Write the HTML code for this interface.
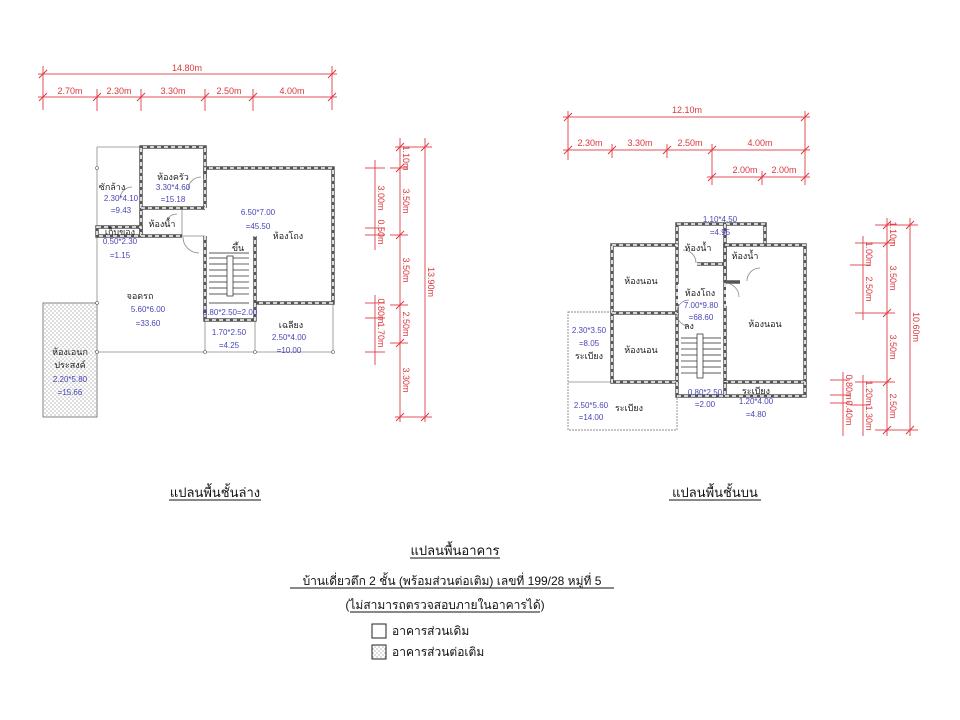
<!DOCTYPE html>
<html><head><meta charset="utf-8">
<style>
html,body{margin:0;padding:0;background:#fff;}
svg{display:block;font-family:"Liberation Sans","DejaVu Sans",sans-serif;}
.d{stroke:#e0505a;stroke-width:1;fill:none}
.dt{fill:#d9383f;font-size:9px}
.t{fill:#222;font-size:9px}
.b{fill:#4a46b8;font-size:8px}
.th{stroke:#888;stroke-width:0.8;fill:none}
.w1{stroke:#555;stroke-width:3.5;fill:none}
.w2{stroke:#fff;stroke-width:1.6;fill:none;stroke-dasharray:4 3}
</style></head>
<body>
<svg width="960" height="720" viewBox="0 0 960 720" xmlns="http://www.w3.org/2000/svg">
<defs>
<pattern id="dots" width="4" height="4" patternUnits="userSpaceOnUse"><rect width="4" height="4" fill="#fff"/><circle cx="1" cy="1" r="0.6" fill="#888"/><circle cx="3" cy="3" r="0.6" fill="#888"/></pattern>
<g id="tk"><line x1="-4" y1="4" x2="4" y2="-4" stroke="#d9383f" stroke-width="1"/></g>
</defs>

<!-- LEFT top dims -->
<line class="d" x1="38" y1="74" x2="337" y2="74"/>
<line class="d" x1="43" y1="66" x2="43" y2="110"/><line class="d" x1="332" y1="66" x2="332" y2="110"/>
<use href="#tk" x="43" y="74"/><use href="#tk" x="332" y="74"/>
<text class="dt" x="187" y="71" text-anchor="middle">14.80m</text>
<line class="d" x1="38" y1="97" x2="337" y2="97"/>
<g>
<line class="d" x1="97" y1="89" x2="97" y2="111"/><line class="d" x1="141" y1="89" x2="141" y2="111"/><line class="d" x1="205" y1="89" x2="205" y2="111"/><line class="d" x1="253" y1="89" x2="253" y2="111"/>
<use href="#tk" x="43" y="97"/><use href="#tk" x="97" y="97"/><use href="#tk" x="141" y="97"/><use href="#tk" x="205" y="97"/><use href="#tk" x="253" y="97"/><use href="#tk" x="332" y="97"/>
</g>
<text class="dt" x="70" y="94" text-anchor="middle">2.70m</text>
<text class="dt" x="119" y="94" text-anchor="middle">2.30m</text>
<text class="dt" x="173" y="94" text-anchor="middle">3.30m</text>
<text class="dt" x="229" y="94" text-anchor="middle">2.50m</text>
<text class="dt" x="292" y="94" text-anchor="middle">4.00m</text>

<!-- LEFT vertical dims -->
<line class="d" x1="425" y1="138" x2="425" y2="422"/>
<line class="d" x1="395" y1="147" x2="432" y2="147"/><line class="d" x1="395" y1="417" x2="432" y2="417"/>
<use href="#tk" x="425" y="147"/><use href="#tk" x="425" y="417"/>
<text class="dt" transform="translate(428,282) rotate(90)" text-anchor="middle">13.90m</text>
<line class="d" x1="400" y1="138" x2="400" y2="422"/>
<g>
<line class="d" x1="390" y1="168" x2="408" y2="168"/><line class="d" x1="390" y1="235" x2="408" y2="235"/><line class="d" x1="390" y1="305" x2="408" y2="305"/><line class="d" x1="390" y1="343" x2="408" y2="343"/>
<use href="#tk" x="400" y="147"/><use href="#tk" x="400" y="168"/><use href="#tk" x="400" y="235"/><use href="#tk" x="400" y="305"/><use href="#tk" x="400" y="343"/><use href="#tk" x="400" y="417"/>
</g>
<text class="dt" transform="translate(403,158) rotate(90)" text-anchor="middle">1.10m</text>
<text class="dt" transform="translate(403,201) rotate(90)" text-anchor="middle">3.50m</text>
<text class="dt" transform="translate(403,270) rotate(90)" text-anchor="middle">3.50m</text>
<text class="dt" transform="translate(403,324) rotate(90)" text-anchor="middle">2.50m</text>
<text class="dt" transform="translate(403,380) rotate(90)" text-anchor="middle">3.30m</text>
<line class="d" x1="375" y1="160" x2="375" y2="250"/><line class="d" x1="375" y1="295" x2="375" y2="365"/>
<line class="d" x1="365" y1="168" x2="385" y2="168"/><line class="d" x1="365" y1="228" x2="385" y2="228"/><line class="d" x1="365" y1="235" x2="385" y2="235"/>
<line class="d" x1="365" y1="303" x2="385" y2="303"/><line class="d" x1="365" y1="318" x2="385" y2="318"/><line class="d" x1="365" y1="352" x2="385" y2="352"/>
<text class="dt" transform="translate(378,198) rotate(90)" text-anchor="middle">3.00m</text>
<text class="dt" transform="translate(378,232) rotate(90)" text-anchor="middle">0.50m</text>
<text class="dt" transform="translate(378,311) rotate(90)" text-anchor="middle">0.80m</text>
<text class="dt" transform="translate(378,335) rotate(90)" text-anchor="middle">1.70m</text>

<!-- LEFT plan -->
<rect x="43" y="303" width="54" height="114" fill="url(#dots)" stroke="#666" stroke-width="0.8"/>
<polyline class="th" points="97,147 141,147"/>
<line class="th" x1="97" y1="147" x2="97" y2="352"/>
<line class="th" x1="97" y1="352" x2="333" y2="352"/>
<line class="th" x1="255" y1="303" x2="255" y2="352"/>
<line class="th" x1="205" y1="320" x2="205" y2="352"/>
<line class="th" x1="333" y1="303" x2="333" y2="352"/>
<line class="th" x1="182" y1="208" x2="182" y2="236"/>
<line class="th" x1="182" y1="236" x2="205" y2="236"/>
<g>
<polyline class="w1" points="141,236 141,147 205,147 205,208"/>
<polyline class="w2" points="141,236 141,147 205,147 205,208"/>
<polyline class="w1" points="205,178 205,168 333,168 333,303 255,303"/>
<polyline class="w2" points="205,178 205,168 333,168 333,303 255,303"/>
<polyline class="w1" points="141,208 205,208"/><polyline class="w2" points="141,208 205,208"/>
<rect class="w1" x="97" y="227" width="44" height="9"/><rect class="w2" x="97" y="227" width="44" height="9"/>
<polyline class="w1" points="141,236 182,236"/><polyline class="w2" points="141,236 182,236"/>
<polyline class="w1" points="205,236 205,320 255,320 255,236"/><polyline class="w2" points="205,236 205,320 255,320 255,236"/>
</g>
<!-- stairs -->
<g stroke="#222" stroke-width="0.7">
<line x1="209" y1="253" x2="249" y2="253"/><line x1="209" y1="303" x2="249" y2="303"/>
<line x1="209" y1="258" x2="227" y2="258"/><line x1="209" y1="264" x2="227" y2="264"/><line x1="209" y1="270" x2="227" y2="270"/><line x1="209" y1="276" x2="227" y2="276"/><line x1="209" y1="282" x2="227" y2="282"/><line x1="209" y1="288" x2="227" y2="288"/><line x1="209" y1="294" x2="227" y2="294"/>
<line x1="233" y1="258" x2="249" y2="258"/><line x1="233" y1="264" x2="249" y2="264"/><line x1="233" y1="270" x2="249" y2="270"/><line x1="233" y1="276" x2="249" y2="276"/><line x1="233" y1="282" x2="249" y2="282"/><line x1="233" y1="288" x2="249" y2="288"/><line x1="233" y1="294" x2="249" y2="294"/>
<rect x="227" y="256" width="6" height="40" fill="#fff"/>
</g>
<!-- doors -->
<path d="M120,199 A12,12 0 0 1 132,187" class="th"/>
<path d="M188,190 A13,13 0 0 1 201,177" class="th"/>
<path d="M183,237 A16,16 0 0 0 199,253" class="th"/>
<path d="M165,226 A12,12 0 0 1 177,214" class="th"/>
<circle cx="97" cy="168" r="1.5" fill="#fff" stroke="#555" stroke-width="0.6"/>
<circle cx="97" cy="303" r="1.5" fill="#fff" stroke="#555" stroke-width="0.6"/>
<circle cx="97" cy="352" r="1.5" fill="#fff" stroke="#555" stroke-width="0.6"/>
<circle cx="205" cy="352" r="1.5" fill="#fff" stroke="#555" stroke-width="0.6"/>
<circle cx="255" cy="352" r="1.5" fill="#fff" stroke="#555" stroke-width="0.6"/>
<circle cx="333" cy="352" r="1.5" fill="#fff" stroke="#555" stroke-width="0.6"/>

<text class="t" x="112" y="190" text-anchor="middle">ซักล้าง</text>
<text class="b" x="121" y="201" text-anchor="middle">2.30*4.10</text>
<text class="b" x="121" y="213" text-anchor="middle">=9.43</text>
<text class="t" x="173" y="180" text-anchor="middle">ห้องครัว</text>
<text class="b" x="173" y="190" text-anchor="middle">3.30*4.60</text>
<text class="b" x="173" y="202" text-anchor="middle">=15.18</text>
<text class="t" x="162" y="227" text-anchor="middle">ห้องน้ำ</text>
<text class="t" x="120" y="235" text-anchor="middle">เก็บของ</text>
<text class="b" x="120" y="244" text-anchor="middle">0.50*2.30</text>
<text class="b" x="120" y="258" text-anchor="middle">=1.15</text>
<text class="b" x="258" y="215" text-anchor="middle">6.50*7.00</text>
<text class="b" x="258" y="229" text-anchor="middle">=45.50</text>
<text class="t" x="288" y="239" text-anchor="middle">ห้องโถง</text>
<text class="t" x="238" y="251" text-anchor="middle">ขึ้น</text>
<text class="t" x="140" y="299" text-anchor="middle">จอดรถ</text>
<text class="b" x="148" y="312" text-anchor="middle">5.60*6.00</text>
<text class="b" x="148" y="326" text-anchor="middle">=33.60</text>
<text class="b" x="230" y="315" text-anchor="middle">0.80*2.50=2.00</text>
<text class="b" x="229" y="335" text-anchor="middle">1.70*2.50</text>
<text class="b" x="229" y="348" text-anchor="middle">=4.25</text>
<text class="t" x="291" y="328" text-anchor="middle">เฉลียง</text>
<text class="b" x="289" y="340" text-anchor="middle">2.50*4.00</text>
<text class="b" x="289" y="353" text-anchor="middle">=10.00</text>
<text class="t" x="70" y="355" text-anchor="middle">ห้องเอนก</text>
<text class="t" x="70" y="368" text-anchor="middle">ประสงค์</text>
<text class="b" x="70" y="382" text-anchor="middle">2.20*5.80</text>
<text class="b" x="70" y="395" text-anchor="middle">=15.66</text>

<!-- RIGHT top dims -->
<line class="d" x1="563" y1="117" x2="810" y2="117"/>
<line class="d" x1="568" y1="111" x2="568" y2="160"/><line class="d" x1="805" y1="111" x2="805" y2="185"/>
<use href="#tk" x="568" y="117"/><use href="#tk" x="805" y="117"/>
<text class="dt" x="687" y="113" text-anchor="middle">12.10m</text>
<line class="d" x1="563" y1="150" x2="810" y2="150"/>
<line class="d" x1="612" y1="144" x2="612" y2="158"/><line class="d" x1="667" y1="144" x2="667" y2="158"/><line class="d" x1="712" y1="144" x2="712" y2="185"/>
<use href="#tk" x="568" y="150"/><use href="#tk" x="612" y="150"/><use href="#tk" x="667" y="150"/><use href="#tk" x="712" y="150"/><use href="#tk" x="805" y="150"/>
<text class="dt" x="590" y="146" text-anchor="middle">2.30m</text>
<text class="dt" x="640" y="146" text-anchor="middle">3.30m</text>
<text class="dt" x="690" y="146" text-anchor="middle">2.50m</text>
<text class="dt" x="760" y="146" text-anchor="middle">4.00m</text>
<line class="d" x1="707" y1="177" x2="810" y2="177"/>
<line class="d" x1="762" y1="171" x2="762" y2="185"/>
<use href="#tk" x="712" y="177"/><use href="#tk" x="762" y="177"/><use href="#tk" x="805" y="177"/>
<text class="dt" x="745" y="173" text-anchor="middle">2.00m</text>
<text class="dt" x="784" y="173" text-anchor="middle">2.00m</text>

<!-- RIGHT vertical dims -->
<line class="d" x1="910" y1="218" x2="910" y2="436"/>
<line class="d" x1="875" y1="225" x2="918" y2="225"/><line class="d" x1="875" y1="430" x2="918" y2="430"/>
<use href="#tk" x="910" y="225"/><use href="#tk" x="910" y="430"/>
<text class="dt" transform="translate(913,327) rotate(90)" text-anchor="middle">10.60m</text>
<line class="d" x1="887" y1="218" x2="887" y2="436"/>
<line class="d" x1="855" y1="243" x2="895" y2="243"/><line class="d" x1="855" y1="313" x2="895" y2="313"/><line class="d" x1="855" y1="382" x2="895" y2="382"/>
<use href="#tk" x="887" y="225"/><use href="#tk" x="887" y="243"/><use href="#tk" x="887" y="313"/><use href="#tk" x="887" y="382"/><use href="#tk" x="887" y="430"/>
<text class="dt" transform="translate(890,234) rotate(90)" text-anchor="middle">1.10m</text>
<text class="dt" transform="translate(890,278) rotate(90)" text-anchor="middle">3.50m</text>
<text class="dt" transform="translate(890,347) rotate(90)" text-anchor="middle">3.50m</text>
<text class="dt" transform="translate(890,406) rotate(90)" text-anchor="middle">2.50m</text>
<line class="d" x1="863" y1="236" x2="863" y2="320"/><line class="d" x1="863" y1="375" x2="863" y2="436"/>
<line class="d" x1="850" y1="265" x2="870" y2="265"/><line class="d" x1="850" y1="405" x2="870" y2="405"/>
<text class="dt" transform="translate(866,254) rotate(90)" text-anchor="middle">1.00m</text>
<text class="dt" transform="translate(866,289) rotate(90)" text-anchor="middle">2.50m</text>
<text class="dt" transform="translate(866,393) rotate(90)" text-anchor="middle">1.20m</text>
<text class="dt" transform="translate(866,418) rotate(90)" text-anchor="middle">1.30m</text>
<line class="d" x1="843" y1="372" x2="843" y2="436"/>
<line class="d" x1="830" y1="380" x2="850" y2="380"/><line class="d" x1="830" y1="395" x2="850" y2="395"/><line class="d" x1="830" y1="403" x2="850" y2="403"/>
<text class="dt" transform="translate(846,387) rotate(90)" text-anchor="middle">0.80m</text>
<text class="dt" transform="translate(846,413) rotate(90)" text-anchor="middle">0.40m</text>

<!-- RIGHT plan -->
<rect x="568" y="312" width="109" height="118" fill="none" stroke="#888" stroke-width="0.9" stroke-dasharray="2 1"/>
<line class="th" x1="568" y1="382" x2="612" y2="382"/>
<g>
<polyline class="w1" points="677,245 677,224 765,224 765,245"/><polyline class="w2" points="677,245 677,224 765,224 765,245"/>
<line class="w1" x1="725" y1="224" x2="725" y2="282"/><line class="w2" x1="725" y1="224" x2="725" y2="282"/>
<line class="w1" x1="697" y1="264" x2="725" y2="264"/><line class="w2" x1="697" y1="264" x2="725" y2="264"/>
<line class="w1" x1="725" y1="282" x2="740" y2="282"/>
<rect class="w1" x="612" y="245" width="65" height="137"/><rect class="w2" x="612" y="245" width="65" height="137"/>
<line class="w1" x1="612" y1="313" x2="677" y2="313"/><line class="w2" x1="612" y1="313" x2="677" y2="313"/>
<rect class="w1" x="725" y="245" width="80" height="137"/><rect class="w2" x="725" y="245" width="80" height="137"/>
<polyline class="w1" points="677,382 677,396 725,396 725,382"/><polyline class="w2" points="677,382 677,396 725,396 725,382"/>
<polyline class="w1" points="725,396 805,396 805,382"/><polyline class="w2" points="725,396 805,396 805,382"/>
</g>
<rect x="678" y="284" width="10" height="20" fill="#fff"/>
<rect x="726" y="284" width="10" height="22" fill="#fff"/>
<path d="M677,312 A12,12 0 0 1 689,300" class="th"/>
<path d="M677,314 A12,12 0 0 0 689,326" class="th"/>
<path d="M725,283 A14,14 0 0 1 739,297" class="th"/>
<path d="M683,250 A13,13 0 0 1 696,263" class="th"/>
<path d="M747,281 A13,13 0 0 1 760,268" class="th"/>
<g stroke="#222" stroke-width="0.7">
<line x1="681" y1="338" x2="721" y2="338"/>
<line x1="681" y1="343" x2="697" y2="343"/><line x1="681" y1="349" x2="697" y2="349"/><line x1="681" y1="355" x2="697" y2="355"/><line x1="681" y1="361" x2="697" y2="361"/><line x1="681" y1="367" x2="697" y2="367"/><line x1="681" y1="373" x2="697" y2="373"/>
<line x1="703" y1="343" x2="721" y2="343"/><line x1="703" y1="349" x2="721" y2="349"/><line x1="703" y1="355" x2="721" y2="355"/><line x1="703" y1="361" x2="721" y2="361"/><line x1="703" y1="367" x2="721" y2="367"/><line x1="703" y1="373" x2="721" y2="373"/>
<rect x="697" y="334" width="6" height="44" fill="#fff"/>
</g>
<text class="b" x="720" y="222" text-anchor="middle">1.10*4.50</text>
<text class="b" x="720" y="235" text-anchor="middle">=4.95</text>
<text class="t" x="698" y="251" text-anchor="middle">ห้องน้ำ</text>
<text class="t" x="745" y="259" text-anchor="middle">ห้องน้ำ</text>
<text class="t" x="641" y="284" text-anchor="middle">ห้องนอน</text>
<text class="t" x="700" y="296" text-anchor="middle">ห้องโถง</text>
<text class="b" x="701" y="308" text-anchor="middle">7.00*9.80</text>
<text class="b" x="701" y="320" text-anchor="middle">=68.60</text>
<text class="t" x="689" y="329" text-anchor="middle">ลง</text>
<text class="t" x="641" y="353" text-anchor="middle">ห้องนอน</text>
<text class="t" x="765" y="327" text-anchor="middle">ห้องนอน</text>
<text class="b" x="589" y="333" text-anchor="middle">2.30*3.50</text>
<text class="b" x="589" y="346" text-anchor="middle">=8.05</text>
<text class="t" x="589" y="359" text-anchor="middle">ระเบียง</text>
<text class="b" x="705" y="395" text-anchor="middle">0.80*2.50</text>
<text class="b" x="705" y="407" text-anchor="middle">=2.00</text>
<text class="t" x="756" y="394" text-anchor="middle">ระเบียง</text>
<text class="b" x="756" y="404" text-anchor="middle">1.20*4.00</text>
<text class="b" x="756" y="417" text-anchor="middle">=4.80</text>
<text class="b" x="591" y="408" text-anchor="middle">2.50*5.60</text>
<text class="t" x="629" y="411" text-anchor="middle">ระเบียง</text>
<text class="b" x="591" y="420" text-anchor="middle">=14.00</text>

<!-- titles -->
<g fill="#111" font-size="13">
<text x="215" y="497" text-anchor="middle">แปลนพื้นชั้นล่าง</text>
<line x1="169" y1="500" x2="261" y2="500" stroke="#111" stroke-width="1"/>
<text x="715" y="497" text-anchor="middle">แปลนพื้นชั้นบน</text>
<line x1="669" y1="500" x2="761" y2="500" stroke="#111" stroke-width="1"/>
<text x="455" y="555" text-anchor="middle">แปลนพื้นอาคาร</text>
<line x1="410" y1="558" x2="500" y2="558" stroke="#111" stroke-width="1"/>
<text x="452" y="585" text-anchor="middle" font-size="12">บ้านเดี่ยวตึก 2 ชั้น (พร้อมส่วนต่อเติม) เลขที่ 199/28 หมู่ที่ 5</text>
<line x1="290" y1="588" x2="614" y2="588" stroke="#111" stroke-width="1"/>
<text x="445" y="609" text-anchor="middle" font-size="12">(ไม่สามารถตรวจสอบภายในอาคารได้)</text>
<line x1="350" y1="612" x2="540" y2="612" stroke="#111" stroke-width="1"/>
<rect x="372" y="624" width="14" height="14" fill="#fff" stroke="#222"/>
<text x="392" y="635" font-size="12">อาคารส่วนเดิม</text>
<rect x="372" y="645" width="14" height="14" fill="url(#dots)" stroke="#222"/>
<text x="392" y="656" font-size="12">อาคารส่วนต่อเติม</text>
</g>
</svg>
</body></html>
